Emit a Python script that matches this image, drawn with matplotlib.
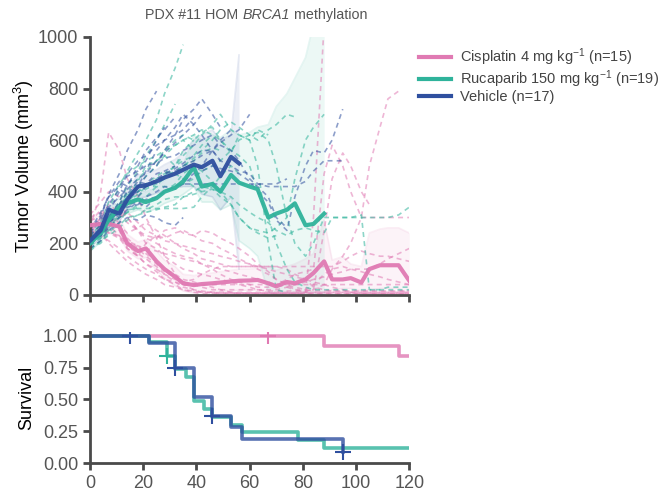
import numpy as np
import matplotlib.pyplot as plt
from matplotlib.lines import Line2D

plt.rcParams['font.family'] = ['Liberation Sans', 'DejaVu Sans']
plt.rcParams['mathtext.fontset'] = 'custom'
plt.rcParams['mathtext.rm'] = 'Liberation Sans'
plt.rcParams['mathtext.it'] = 'Liberation Sans:italic'

PINK = '#e07ab3'
TEAL = '#2fb39b'
BLUE = '#2f4f9f'
GREY = '#4a4a4a'

# measurement days shared by all growth curves
DAYS = [0, 4, 7, 11, 14, 18, 21, 25, 28, 32, 35, 39, 42, 46, 49, 53, 56, 60, 63,
        67, 70, 74, 77, 81, 84, 88, 91, 95, 98, 102, 105, 109, 112, 116, 120]

# group means
vehicle_mean = [210, 250, 330, 315, 370, 420, 425, 440, 455, 470, 485, 505, 495, 520, 460, 535, 510]
rucaparib_mean = [200, 240, 290, 340, 355, 370, 360, 375, 400, 415, 440, 495, 420, 430, 400, 465,
                  435, 420, 410, 300, 315, 330, 355, 270, 275, 315]
cisplatin_mean = [270, 275, 275, 265, 200, 170, 180, 130, 100, 70, 45, 38, 42, 45, 48, 52, 55, 56,
                  58, 45, 33, 50, 45, 60, 85, 130, 60, 60, 65, 48, 100, 115, 115, 115, 55]

# confidence bands
vehicle_lo = [185, 220, 295, 285, 335, 375, 380, 395, 405, 415, 420, 420, 390, 380, 330, 380, 100]
vehicle_hi = [235, 280, 365, 345, 405, 465, 470, 485, 505, 525, 550, 600, 620, 640, 600, 620, 930]
rucaparib_lo = [170, 205, 250, 300, 315, 330, 320, 335, 355, 370, 390, 420, 360, 360, 330, 350,
                210, 180, 150, 10, 0, 0, 0, 0, 0, 0]
rucaparib_hi = [230, 275, 330, 380, 395, 410, 400, 415, 445, 470, 500, 620, 600, 620, 610, 640,
                620, 630, 650, 660, 730, 780, 840, 920, 1050, 1200]
cisplatin_lo = [240, 245, 245, 230, 170, 140, 145, 95, 65, 35, 15, 8, 10, 12, 14, 16, 18, 18, 20,
                10, 5, 8, 5, 0, 0, 0, 20, 25, 25, 15, 20, 25, 25, 25, 0]
cisplatin_hi = [300, 305, 305, 300, 235, 205, 215, 170, 135, 110, 80, 75, 80, 85, 90, 95, 100, 100,
                105, 110, 95, 110, 120, 140, 160, 290, 135, 148, 120, 110, 240, 255, 260, 260, 240]

# individual mice
vehicle_mice = [
    [230, 300, 390, 470, 560, 640, 720, 790],
    [190, 250, 300, 360, 430, 470, 520, 600, 650],
    [240, 310, 380, 440, 420, 500, 560, 610, 640, 690],
    [210, 260, 340, 380, 410, 450, 470, 520, 550, 590, 620, 660, 700],
    [220, 240, 300, 350, 400, 380, 420, 440, 470, 480, 500, 520, 540, 560, 590, 620, 640, 700],
    [200, 230, 260, 300, 330, 360, 340, 380, 400, 420, 430, 430, 430, 430, 430, 430, 430, 430,
     430, 430, 430, 450],
    [210, 250, 280, 320, 350, 360, 380, 400, 420, 410, 430, 460, 480, 500, 490, 480, 470, 440,
     400, 360, 290, 250, 380, 500, 560, 550, 600, 720],
    [220, 260, 300, 340, 380, 400, 420, 450, 470, 490, 510, 540, 560, 560, 520, 500, 480, 470,
     430, 420, 420, 420, 420, 440, 480, 520, 520, 520],
    [180, 210, 250, 280, 300, 290, 310, 300, 280, 270, 300],
    [250, 320, 380, 420, 460, 480, 500, 510, 530, 540, 560, 580, 600, 620, 580, 560, 520, 450,
     420, 380, 300, 260],
    [200, 240, 320, 400, 470, 520, 540, 580, 600, 620, 640, 690],
    [230, 270, 290, 320, 340, 350, 370, 380, 400, 420, 440, 470, 500, 560, 600, 640],
    [200, 280, 330, 300, 360, 420, 480, 560, 600, 650, 700, 660, 620, 560, 520],
    [240, 290, 350, 410, 390, 440, 430, 470, 480, 500],
    [210, 230, 270, 330, 370, 420, 460, 500, 560, 620, 680, 720, 760, 700, 650],
]
rucaparib_mice = [
    [200, 250, 330, 420, 480, 550, 600, 680, 780, 880, 970],
    [190, 230, 280, 340, 380, 420, 420, 420, 420, 420, 430, 450, 480, 500, 520, 560, 600, 620,
     630, 600, 500, 300, 200, 150, 200, 300, 300, 300, 300, 300, 300, 300, 300, 310, 340],
    [210, 260, 300, 350, 400, 450, 480, 520, 560, 600, 620, 600, 630, 650, 600, 550, 620, 600,
     500, 200, 20, 10],
    [180, 200, 240, 280, 330, 335, 335, 335, 335, 335, 335, 340, 380, 420, 460, 500, 470],
    [220, 280, 360, 430, 470, 500, 520, 540, 560, 580, 600, 560],
    [200, 220, 260, 300, 320, 340, 360, 380, 400, 430, 470, 500, 480, 440, 400, 350, 300, 260,
     250, 240, 260, 300, 450, 600, 650, 700],
    [190, 240, 300, 360, 420, 480, 540, 600, 660, 740],
    [210, 230, 250, 270, 300, 310, 320, 330, 340, 350, 380, 400, 420, 410, 400, 380, 350, 320,
     300, 280, 250, 230, 250, 260, 250, 240, 300, 300, 300, 310, 20, 20, 30, 30, 30],
    [200, 250, 290, 330, 360, 390, 420, 450, 470, 500, 520, 540, 580, 620],
    [230, 270, 310, 350, 380, 400, 420, 440, 460, 480, 500, 530, 560, 600, 640, 670, 650, 620,
     600, 640, 660, 700, 690],
    [170, 210, 230, 260, 290, 310, 330, 350, 370, 380, 380, 390, 400, 410, 380, 350, 300, 260,
     240, 220, 230],
    [210, 260, 310, 350, 390, 420, 460, 500, 540, 580, 600, 620, 640, 620, 600, 560, 540, 500,
     400, 300, 200, 100, 50, 30, 20, 20, 20, 20, 20, 20, 20, 20, 20, 20, 20],
    [190, 220, 280, 330, 380, 440, 500, 520, 540, 500, 560, 600],
    [220, 250, 280, 310, 350, 380, 410, 430, 450, 470, 500, 520, 550, 570, 560],
    [200, 240, 270, 300, 320, 350, 380, 420, 460, 500, 540, 580, 620, 660, 700, 640, 620, 600,
     640, 620],
    [180, 210, 260, 310, 360, 400, 430, 460, 480, 470, 450, 420, 400],
]
cisplatin_mice = [
    [260, 400, 630, 560, 450, 380, 300, 220, 150, 80, 40, 20, 10, 10, 5, 5, 5, 5, 5, 5, 5, 5, 5,
     5, 5, 5, 5, 5, 5, 5, 5, 5, 5, 5, 5],
    [280, 330, 300, 280, 200, 150, 120, 100, 80, 60, 50, 60, 80, 100, 110, 110, 110, 110, 110,
     110, 110, 100, 80, 60, 30, 20, 15, 15, 15, 15, 15, 15, 15, 15, 15],
    [300, 320, 290, 250, 180, 150, 200, 230, 220, 240, 250, 230, 210, 200, 180, 160, 140, 120,
     100, 80, 60, 40, 20, 10, 300, 1050],
    [250, 270, 240, 220, 180, 150, 120, 90, 60, 40, 20, 10, 5, 5, 5, 5, 5, 5, 5, 5, 5, 5, 5, 10,
     20, 40, 100, 150, 200, 300, 500, 650, 760, 790],
    [270, 290, 310, 330, 300, 250, 220, 200, 180, 160, 150, 140, 120, 100, 80, 60, 50, 40, 30,
     30, 40, 60, 80, 90, 100, 470, 580, 500, 400, 300, 300, 300, 300, 300, 300],
    [240, 260, 280, 260, 220, 180, 150, 120, 90, 70, 50, 40, 30, 20, 20, 20, 20, 20, 20, 20, 20,
     30, 40, 50, 60, 70, 80, 90, 100, 100, 100, 120, 140, 160, 180],
    [290, 300, 270, 230, 190, 160, 140, 110, 80, 50, 30, 20, 15, 10, 10, 10, 10, 10, 10, 10, 10,
     10, 10, 10, 10, 10, 10, 10, 10, 10, 10, 10, 10, 10, 10],
    [250, 230, 210, 180, 150, 120, 100, 80, 60, 50, 40, 40, 40, 40, 40, 40, 40, 40, 40, 40, 40,
     40, 40, 40, 40, 40, 40, 40, 40, 40, 40, 40, 40, 40, 40],
    [310, 360, 400, 380, 300, 250, 200, 180, 150, 120, 100, 90, 80, 70, 60, 50, 40, 30, 20, 15,
     15, 15, 15, 15, 20, 250, 450, 550, 500, 400, 350],
    [230, 250, 270, 300, 320, 280, 250, 230, 210, 200, 190, 180, 170, 160, 150, 140, 130, 120,
     110, 100, 90, 80, 70, 60, 50, 40, 30, 20, 10, 5, 5, 5, 5, 5, 5],
    [280, 260, 240, 230, 210, 190, 160, 130, 100, 80, 60, 50, 40, 30, 20, 10, 5, 5, 5, 5, 5, 5,
     5, 5, 5, 5, 5, 5, 5, 5, 5, 5, 5, 5, 5],
    [260, 280, 250, 220, 200, 190, 180, 170, 160, 150, 140, 130, 120, 110, 100, 90, 80, 70, 60,
     50, 40, 30, 20, 20, 40, 80, 100, 110, 100, 90, 80, 70, 60, 50, 40],
    [250, 300, 350, 320, 280, 250, 230, 220, 250, 260, 240, 230, 250, 240, 220, 200, 180, 150,
     120, 90, 60, 40, 30, 20, 15, 15, 15, 15, 15, 15, 15, 15, 15, 15, 15],
    [270, 240, 200, 160, 130, 100, 80, 60, 40, 30, 20, 15, 10, 8, 8, 8, 8, 8, 8, 8, 8, 8, 8, 8,
     8, 8, 8, 8, 8, 8, 8, 8, 8, 8, 8],
    [230, 260, 300, 270, 240, 260, 280, 250, 230, 200, 180, 160, 140, 130, 120, 110, 110, 110,
     110, 110, 110, 110, 110, 110, 110, 110, 110, 130, 150, 170, 160, 150, 150, 140, 130],
]

# Kaplan-Meier survival
cis_t = [0, 88, 116, 120]
cis_s = [1.0, 0.92, 0.84, 0.84]
cis_cens_t = [67]
cis_cens_s = [1.0]
ruc_t = [0, 22, 29, 32, 36, 39, 43, 46, 53, 57, 78, 88, 120]
ruc_s = [1.0, 0.947, 0.842, 0.737, 0.674, 0.488, 0.421, 0.361, 0.30, 0.24, 0.18, 0.12, 0.12]
ruc_cens_t = [29]
ruc_cens_s = [0.842]
veh_t = [0, 22, 32, 39, 46, 53, 57, 95]
veh_s = [1.0, 0.94, 0.75, 0.52, 0.37, 0.28, 0.19, 0.09]
veh_cens_t = [15, 32, 46, 95]
veh_cens_s = [1.0, 0.75, 0.37, 0.09]

groups = [
    ('Cisplatin 4 mg kg$^{-1}$ (n=15)', PINK, cisplatin_mice, cisplatin_mean, cisplatin_lo, cisplatin_hi),
    ('Rucaparib 150 mg kg$^{-1}$ (n=19)', TEAL, rucaparib_mice, rucaparib_mean, rucaparib_lo, rucaparib_hi),
    ('Vehicle (n=17)', BLUE, vehicle_mice, vehicle_mean, vehicle_lo, vehicle_hi),
]


def style_axes(ax):
    for side in ['top', 'right']:
        ax.spines[side].set_visible(False)
    for side in ['left', 'bottom']:
        ax.spines[side].set_color(GREY)
        ax.spines[side].set_linewidth(2)
    ax.tick_params(colors=GREY, width=2, length=5, labelsize=13, labelcolor='#555555')


fig = plt.figure(figsize=(6.72, 4.99), dpi=100)
ax1 = fig.add_axes([0.134, 0.409, 0.475, 0.517])
ax2 = fig.add_axes([0.134, 0.072, 0.475, 0.263])

for name, color, mice, mean, lo, hi in groups:
    d = DAYS[:len(mean)]
    ax1.fill_between(d, lo, hi, color=color, alpha=0.09, lw=0, zorder=1)
    ax1.plot(d, hi, color=color, alpha=0.12, lw=1.2, zorder=1)
    ax1.plot(d, lo, color=color, alpha=0.12, lw=1.2, zorder=1)
    for m in mice:
        ax1.plot(DAYS[:len(m)], m, color=color, lw=1.2, ls=(0, (3, 2.5)), alpha=0.55, zorder=2)

for name, color, mice, mean, lo, hi in groups:
    ax1.plot(DAYS[:len(mean)], mean, color=color, lw=3, alpha=0.95, zorder=3)

ax1.set_xlim(0, 120)
ax1.set_ylim(0, 1000)
ax1.set_xticks(range(0, 121, 20))
ax1.set_xticklabels([])
ax1.set_yticks(range(0, 1001, 200))
ax1.set_ylabel('Tumor Volume (mm$^3$)', fontsize=13, color='black')
ax1.yaxis.set_label_coords(-0.17, 0.5)
style_axes(ax1)

# title with italic gene name
t1 = fig.text(0.2, 0.962, 'PDX #11 HOM ', fontsize=10.3, color='#555555', va='baseline')
t2 = fig.text(0, 0, 'BRCA1', fontsize=10.3, color='#555555', style='italic', va='baseline',
              transform=t1.get_transform())
fig.canvas.draw()
r = fig.canvas.get_renderer()
bb1 = t1.get_window_extent(r)
t2.set_position(((bb1.x1) / fig.bbox.width, 0.962))
bb2 = t2.get_window_extent(r)
t3 = fig.text(bb2.x1 / fig.bbox.width, 0.962, ' methylation', fontsize=10.3, color='#555555',
              va='baseline')
bb3 = t3.get_window_extent(r)
shift = (0.381 - (bb1.x0 + bb3.x1) / 2 / fig.bbox.width)
for t in (t1, t2, t3):
    x, y = t.get_position()
    t.set_position((x + shift, y))

km = [
    (cis_t, cis_s, cis_cens_t, cis_cens_s, PINK),
    (ruc_t, ruc_s, ruc_cens_t, ruc_cens_s, TEAL),
    (veh_t, veh_s, veh_cens_t, veh_cens_s, BLUE),
]
for t, s, ct, cs, color in km:
    ax2.step(t, s, where='post', color=color, lw=2.6, alpha=0.8)
    ax2.plot(ct, cs, ls='none', marker='+', ms=12, mew=1.5, color=color)

ax2.set_xlim(0, 120)
ax2.set_ylim(0, 1.03)
ax2.set_xticks(range(0, 121, 20))
ax2.set_yticks([0, 0.25, 0.5, 0.75, 1.0])
ax2.set_yticklabels(['0.00', '0.25', '0.50', '0.75', '1.00'])
ax2.set_ylabel('Survival', fontsize=13, color='black')
ax2.yaxis.set_label_coords(-0.172, 0.5)
style_axes(ax2)

handles = [Line2D([], [], color=g[1], lw=3) for g in groups]
fig.legend(handles, [g[0] for g in groups], loc='upper left', bbox_to_anchor=(0.615, 0.918),
           frameon=False, fontsize=10.5, handlelength=2.2, labelspacing=0.0,
           labelcolor='#444444', borderaxespad=0, handletextpad=0.6)

fig.savefig('out.png', dpi=100)
